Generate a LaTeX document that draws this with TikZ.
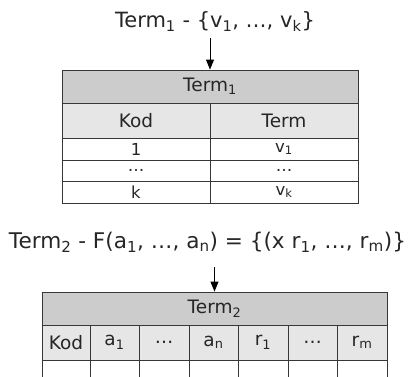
\documentclass[tikz,border=0pt]{standalone}
\usepackage{fontspec}
\setmainfont{DejaVu Sans}
\usetikzlibrary{arrows.meta}
\definecolor{hdrgray}{RGB}{204,204,204}
\definecolor{colgray}{RGB}{230,230,230}
\definecolor{linegray}{RGB}{55,55,55}
\newcommand{\sbs}[1]{\textsubscript{#1}}
\begin{document}
\begin{tikzpicture}[x=1pt,y=-1pt,
  cell/.style={draw=linegray, line width=0.9pt, inner sep=0pt, anchor=center,
    font=\fontsize{18.5}{20}\selectfont, text=black!85},
  hdr/.style={cell, fill=hdrgray},
  colh/.style={cell, fill=colgray},
  datacell/.style={cell, fill=white, font=\fontsize{16.5}{17}\selectfont},
  title/.style={inner sep=0pt, text=black!85},
  arr/.style={line width=0.9pt, -{Triangle[length=10pt,width=8pt]}}
]
\clip (0,0) rectangle (409,376);
\useasboundingbox (0,0) rectangle (409,376);

% ---- first block ----
\node[title, font=\fontsize{21}{24}\selectfont] (t1) at (215,22) {Term\sbs{1} - \{v\sbs{1}, …, v\sbs{k}\}};
\node[hdr, minimum width=296pt, minimum height=33pt] (h1) at (210,86.5) {Term\sbs{1}};
\node[colh, minimum width=148pt, minimum height=35pt] (k1) at (136,120.5) {Kod};
\node[colh, minimum width=148pt, minimum height=35pt] (m1) at (284,120.5) {Term};
\node[datacell, minimum width=148pt, minimum height=22pt] (r11) at (136,149) {1};
\node[datacell, minimum width=148pt, minimum height=22pt] (r12) at (284,149) {v\sbs{1}};
\node[datacell, minimum width=148pt, minimum height=21pt] (r21) at (136,170.5) {…};
\node[datacell, minimum width=148pt, minimum height=21pt] (r22) at (284,170.5) {…};
\node[datacell, minimum width=148pt, minimum height=22pt] (r31) at (136,192) {k};
\node[datacell, minimum width=148pt, minimum height=22pt] (r32) at (284,192) {v\sbs{k}};
\draw[arr] (h1.north |- 0,38) coordinate (a1) -- (h1.north);

% ---- second block ----
\node[title, font=\fontsize{21.6}{24}\selectfont] (t2) at (207.5,242) {Term\sbs{2} - F(a\sbs{1}, …, a\sbs{n}) = \{(x r\sbs{1}, …, r\sbs{m})\}};
\node[hdr, minimum width=345pt, minimum height=33pt] (h2) at (214.5,308.5) {Term\sbs{2}};
\foreach \i/\xl/\xr/\lab in {1/42/90/Kod, 2/90/139/a\sbs{1}, 3/139/189/…, 4/189/238/a\sbs{n}, 5/238/288/r\sbs{1}, 6/288/337/…, 7/337/387/r\sbs{m}}{
  \node[colh, minimum width=\xr pt-\xl pt, minimum height=35pt] (c\i) at ({(\xl+\xr)/2},342.5) {\lab};
  \node[datacell, minimum width=\xr pt-\xl pt, minimum height=30pt] (e\i) at ({(\xl+\xr)/2},375) {};
}
\draw[arr] (h2.north |- 0,267) coordinate (a2) -- (h2.north);
\end{tikzpicture}
\end{document}
